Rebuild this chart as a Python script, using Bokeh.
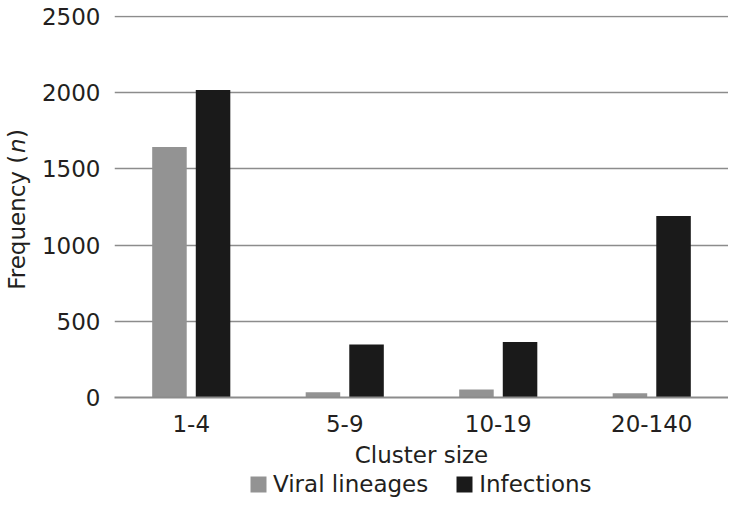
import math
from bokeh.plotting import figure
from bokeh.layouts import column, row
from bokeh.models import (Range1d, FactorRange, Legend, LegendItem, Label,
                          FixedTicker, ColumnDataSource)
from bokeh.transform import dodge
from bokeh.embed import file_html
from bokeh.resources import INLINE

categories = ["1-4", "5-9", "10-19", "20-140"]
viral_lineages = [1642, 35, 52, 28]
infections = [2017, 347, 364, 1190]
y_ticks = [0, 500, 1000, 1500, 2000, 2500]
series_names = ["Viral lineages", "Infections"]
x_title = "Cluster size"
y_title_parts = ["Frequency (", "n", ")"]

FONT = "DejaVu Sans"
TEXT = "#231f20"
GRAY = "#939393"
BLACK = "#1a1a1a"
GRID = "#8c8c8c"
FS = "23px"

W = 728
H_MAIN = 470
H_LEG = 27
W_YT = 34
TOP = 15
BOTTOM = H_MAIN - 398

src = ColumnDataSource(dict(cat=categories, viral=viral_lineages, inf=infections))
yr = Range1d(0, 2505)

# ---------------- main plot ----------------
p = figure(width=W - W_YT, height=H_MAIN,
           x_range=FactorRange(factors=categories, range_padding=0),
           y_range=yr,
           output_backend="svg", toolbar_location=None,
           min_border_left=114 - W_YT, min_border_right=0,
           min_border_top=TOP, min_border_bottom=BOTTOM)
p.outline_line_color = None

r1 = p.vbar(x=dodge("cat", -0.142, range=p.x_range), top="viral", width=0.225,
            source=src, fill_color=GRAY, line_color=None)
r2 = p.vbar(x=dodge("cat", 0.142, range=p.x_range), top="inf", width=0.225,
            source=src, fill_color=BLACK, line_color=None)

p.yaxis.ticker = FixedTicker(ticks=y_ticks)
p.yaxis.axis_line_color = None
p.yaxis.major_tick_line_color = None
p.yaxis.minor_tick_line_color = None
p.yaxis.major_label_standoff = 8
p.yaxis.major_label_text_font = FONT
p.yaxis.major_label_text_font_size = FS
p.yaxis.major_label_text_color = TEXT

p.xaxis.axis_line_color = GRID
p.xaxis.axis_line_width = 2
p.xaxis.major_tick_line_color = None
p.xaxis.minor_tick_line_color = None
p.xaxis.major_label_standoff = 11
p.xaxis.major_label_text_font = FONT
p.xaxis.major_label_text_font_size = FS
p.xaxis.major_label_text_color = TEXT
p.xaxis.axis_label = x_title
p.xaxis.axis_label_standoff = 7
p.xaxis.axis_label_text_font = FONT
p.xaxis.axis_label_text_font_size = FS
p.xaxis.axis_label_text_font_style = "normal"
p.xaxis.axis_label_text_color = TEXT

p.xgrid.grid_line_color = None
p.ygrid.ticker = FixedTicker(ticks=y_ticks)
p.ygrid.grid_line_color = GRID
p.ygrid.grid_line_width = 1.5

# ---------------- y title strip (italic n) ----------------
yt = figure(width=W_YT, height=H_MAIN, x_range=Range1d(0, W_YT), y_range=yr,
            x_axis_location=None, y_axis_location=None,
            output_backend="svg", toolbar_location=None,
            min_border_left=0, min_border_right=0,
            min_border_top=TOP, min_border_bottom=BOTTOM)
yt.grid.visible = False
yt.outline_line_color = None
starts = [706, 1603, 1701]
styles = ["normal", "italic", "normal"]
for txt, yv, style in zip(y_title_parts, starts, styles):
    yt.add_layout(Label(x=16, y=yv, text=txt, angle=math.pi / 2,
                        text_align="left", text_baseline="middle",
                        text_font=FONT, text_font_size=FS, text_font_style=style,
                        text_color=TEXT))

# ---------------- legend strip ----------------
lg = figure(width=W, height=H_LEG,
            x_range=FactorRange(factors=categories, range_padding=0),
            y_range=Range1d(-2, -1),
            x_axis_location=None, y_axis_location=None,
            output_backend="svg", toolbar_location=None,
            min_border=0)
lg.grid.visible = False
lg.outline_line_color = None
l1 = lg.vbar(x=dodge("cat", -0.142, range=lg.x_range), top="viral", width=0,
             source=src, fill_color=GRAY, line_color=None)
l2 = lg.vbar(x=dodge("cat", 0.142, range=lg.x_range), top="inf", width=0,
             source=src, fill_color=BLACK, line_color=None)
legend = Legend(items=[LegendItem(label=series_names[0], renderers=[l1]),
                       LegendItem(label=series_names[1], renderers=[l2])],
                orientation="horizontal", location=(248, 0),
                glyph_width=20, glyph_height=20, label_standoff=5, spacing=26,
                padding=0, margin=0, border_line_color=None,
                background_fill_alpha=0,
                label_text_font=FONT, label_text_font_size=FS,
                label_text_color=TEXT, label_height=20)
lg.add_layout(legend)

layout = column(row(yt, p, spacing=0), lg, spacing=0)
open("out.html", "w").write(file_html(layout, INLINE))
